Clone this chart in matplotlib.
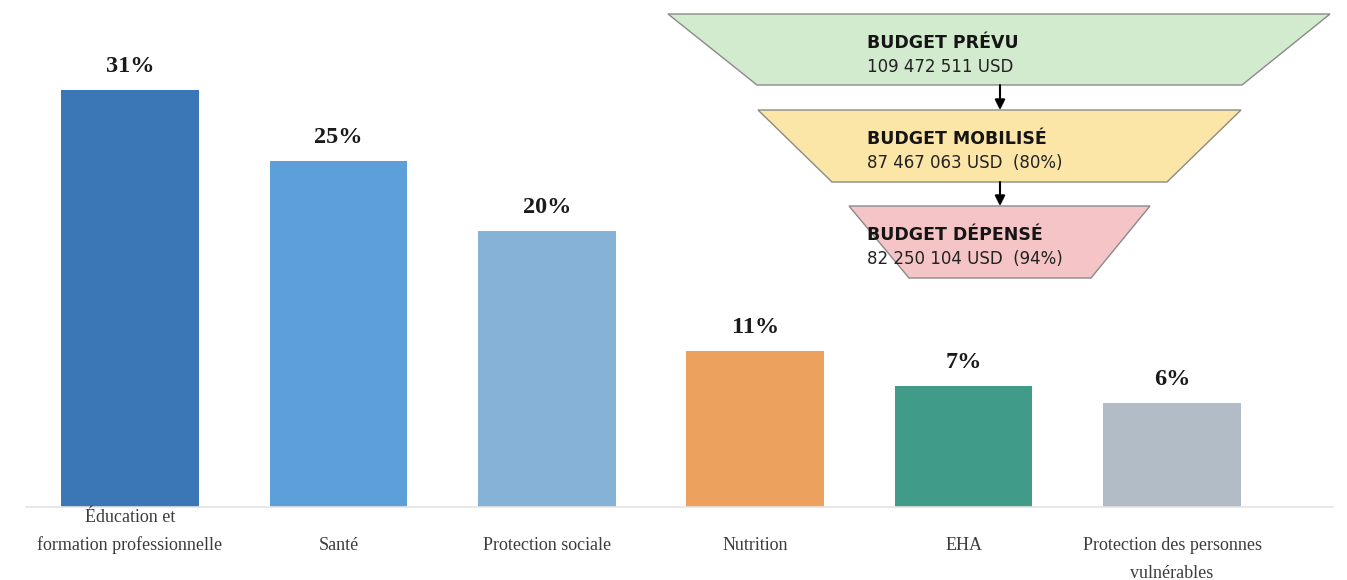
import matplotlib
matplotlib.use("Agg")
import matplotlib.pyplot as plt
from matplotlib.patches import Polygon

# bar chart data (heights, labels as printed)
categories = [
    "Éducation et\nformation professionnelle",
    "Santé",
    "Protection sociale",
    "Nutrition",
    "EHA",
    "Protection des personnes\nvulnérables",
]
bar_heights = [30.0, 24.9, 19.9, 11.2, 8.7, 7.5]
pct_labels = ["31%", "25%", "20%", "11%", "7%", "6%"]
bar_colors = ["#3b76b6", "#5c9fd9", "#86b2d8", "#eca25e", "#409b89", "#b1bcc6"]

# funnel data
stage_titles = ["BUDGET PRÉVU", "BUDGET MOBILISÉ", "BUDGET DÉPENSÉ"]
stage_amounts = ["109 472 511 USD", "87 467 063 USD  (80%)", "82 250 104 USD  (94%)"]
stage_colors = ["#d2eacd", "#fbe5a7", "#f5c4c6"]

W, H = 1347, 580
fig = plt.figure(figsize=(W / 100, H / 100), dpi=100)
fig.patch.set_facecolor("white")

ax = fig.add_axes([25.8 / W, 73 / H, (1332.5 - 25.8) / W, 500 / H])
x = range(len(categories))
ax.bar(x, bar_heights, width=0.66, color=bar_colors, zorder=2)
ax.set_xlim(-0.5, 5.77)
ax.set_ylim(0, 36)
for s in ["top", "right", "left"]:
    ax.spines[s].set_visible(False)
ax.spines["bottom"].set_color("#e4e4e4")
ax.spines["bottom"].set_linewidth(1.2)
ax.set_yticks([])
ax.set_xticks([])

for i, h in enumerate(bar_heights):
    ax.annotate(pct_labels[i], xy=(i, h), xytext=(0, 17), textcoords="offset points",
                ha="center", va="center", fontsize=17.5, fontweight="bold",
                family="Liberation Serif", color="#1a1a1a")

# category labels: the first one sits one line higher than the rest
for i, lab in enumerate(categories):
    lines = lab.split("\n")
    start = -1 if i == 0 else 0
    for k, line in enumerate(lines):
        row = start + k
        ax.annotate(line, xy=(i, 0), xycoords=("data", "axes fraction"),
                    xytext=(0, -(38 + 28 * row) * 0.72), textcoords="offset points",
                    ha="center", va="center", fontsize=13,
                    family="Liberation Serif", color="#3c3c3c")

# funnel overlay in pixel coordinates
fx = fig.add_axes([0, 0, 1, 1])
fx.set_xlim(0, W)
fx.set_ylim(H, 0)
fx.axis("off")
fx.patch.set_alpha(0)

trap = [  # (top y, bottom y, top left, top right, bottom left, bottom right)
    (14, 85, 668, 1330, 757, 1242),
    (110, 182, 758, 1241, 832, 1167),
    (206, 278, 849, 1150, 909, 1091),
]
for (t, b, tl, tr, bl, br), col, title, amt in zip(trap, stage_colors, stage_titles, stage_amounts):
    fx.add_patch(Polygon([(tl, t), (tr, t), (br, b), (bl, b)], closed=True,
                         facecolor=col, edgecolor="#8a8a8a", linewidth=1))
    fx.text(867, t + 29, title, ha="left", va="center", fontsize=12.5,
            fontweight="bold", family="DejaVu Sans", color="#151515")
    fx.text(867, t + 53, amt, ha="left", va="center", fontsize=12,
            family="DejaVu Sans", color="#222222")

for k in range(2):
    fx.annotate("", xy=(1000, trap[k + 1][0]), xytext=(1000, trap[k][1]),
                arrowprops=dict(arrowstyle="-|>", color="black", lw=1.5,
                                mutation_scale=15, shrinkA=0, shrinkB=0))

fig.savefig("out.png", dpi=100)
